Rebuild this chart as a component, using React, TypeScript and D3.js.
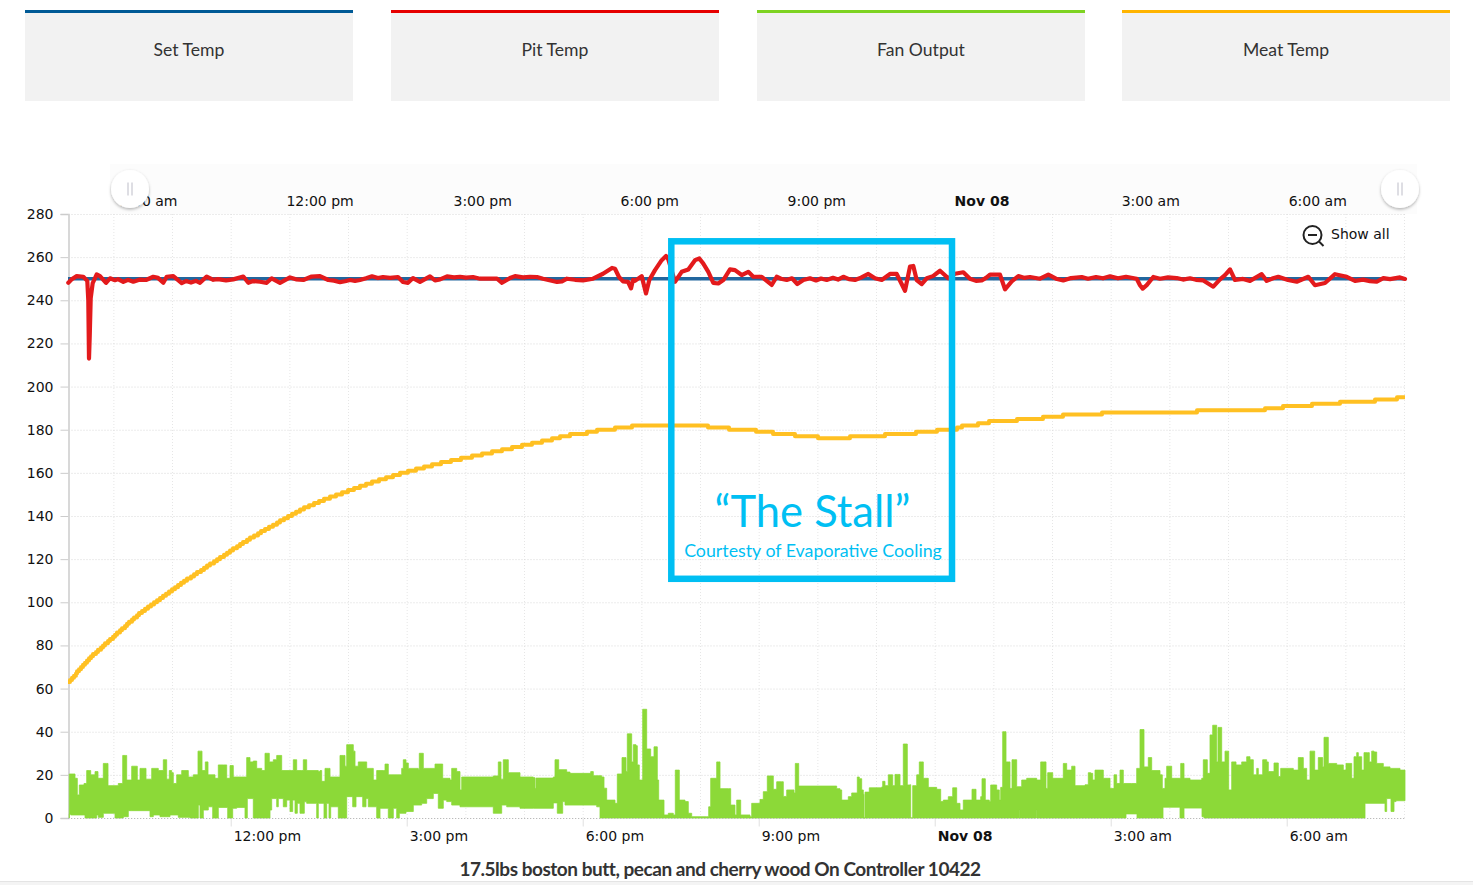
import * as d3 from 'd3';
import React, { useEffect, useRef } from 'react';

type Reading = [number, number];

// readings are keyed by logger sample number, the run is 1337 samples long
const sampleCount = 1337;
const runStart = new Date(2016, 10, 7, 9, 13, 36);
const runEnd = new Date(2016, 10, 8, 8, 1, 0);

const legendNames = ['Set Temp', 'Pit Temp', 'Fan Output', 'Meat Temp'];
const legendColors = ['#005a96', '#e60000', '#7ed321', '#ffb400'];

const yTicks = [0, 20, 40, 60, 80, 100, 120, 140, 160, 180, 200, 220, 240, 260, 280];
const bottomTickTimes = [
  new Date(2016, 10, 7, 12),
  new Date(2016, 10, 7, 15),
  new Date(2016, 10, 7, 18),
  new Date(2016, 10, 7, 21),
  new Date(2016, 10, 8, 0),
  new Date(2016, 10, 8, 3),
  new Date(2016, 10, 8, 6),
];
const bottomTickLabels = ['12:00 pm', '3:00 pm', '6:00 pm', '9:00 pm', 'Nov 08', '3:00 am', '6:00 am'];
const topTickTimes = [new Date(2016, 10, 7, 9), ...bottomTickTimes];
const topTickLabels = ['9:00 am', ...bottomTickLabels];

const setTemp: Reading[] = [[0, 250], [1337, 250]];

const pitTemp: Reading[] = [
  [0.3, 248.1], [3.7, 249.7], [8.7, 251.2], [15.3, 250.9], [19.3, 249], [20.3, 240], [21, 213], [21.7, 223], [22.7, 241],
  [24.7, 248], [28.7, 252], [32, 251.2], [38, 248.1], [42, 250.2], [47, 249.3], [50, 249.8], [55.3, 248.5], [60, 249.5], [65.3, 248.6],
  [72, 249.6], [78, 249.4], [85.3, 250.9], [90, 250.4], [95.3, 248.1], [98.7, 250.9], [105.3, 251.2], [113.7, 248], [118, 248.9],
  [123, 248.2], [128, 249], [132, 248.1], [138.7, 251], [145.3, 249.5], [150, 249.8], [158, 249.2], [165.3, 249.7], [175.3, 251],
  [180.3, 248.1], [185, 248.9], [192, 248.6], [198.7, 248.1], [203.7, 250.2], [212, 248.1], [222, 250.6], [228, 249.7], [235.3, 249.4],
  [243.7, 251], [252, 251.2], [260.3, 249.4], [266, 249.1], [272, 248.4], [277, 248.8], [282, 249.4], [287, 249], [292, 249.4], [298, 250.2],
  [304, 251.1], [310, 250.3], [315, 250.8], [322, 250.4], [330, 250.8], [335, 248.5], [340, 248.1], [345, 250.3], [352, 248.5], [362, 251.1],
  [367, 249.2], [372, 249.7], [379, 251.1], [386, 250.6], [392, 250.9], [398, 250.5], [405, 250.8], [412, 250], [429, 250], [434, 248.1],
  [442, 250.3], [447, 251.2], [455, 250.6], [462, 250.9], [469, 250.8], [475, 250], [489, 248.5], [494, 248.8], [499, 250], [507, 249.5],
  [515, 249.2], [525, 250], [535, 252.3], [544, 255], [547, 254.6], [551, 250.8], [555, 248.8], [560, 248.5], [563, 245.5], [565, 249.5],
  [567, 249], [573.7, 251.2], [578, 243.2], [581.3, 249.4], [587, 254], [593.7, 258.6], [598, 260.5], [600.3, 259], [607, 248.6], [613.7, 253.2],
  [620.3, 254.3], [627, 258.6], [631.3, 259.4], [635.3, 257], [640.3, 253.2], [645.3, 248.1], [650.3, 247.8], [655.3, 249.4], [662, 254.3],
  [667, 254], [673.7, 251.7], [680.3, 253.2], [685.3, 250.9], [693.7, 250.9], [703.7, 247.1], [708.7, 250.9], [713, 250], [718.7, 249.4],
  [724, 250.2], [729.3, 247.5], [735.3, 249.4], [742, 250.2], [748, 249.2], [753, 250.1], [758.7, 249.4], [765, 250.4], [770, 249.6],
  [775.3, 250.9], [781, 249.8], [787, 249.4], [793, 250.5], [800.3, 252.2], [807, 250.2], [813.7, 249.4], [822, 252.2], [828.7, 252.2],
  [837, 244.4], [842, 255.6], [845.3, 255.9], [848.7, 249.4], [853.7, 247.5], [858.7, 250.2], [865, 251.2], [872, 253.7], [880.3, 250.2],
  [887, 252.3], [895.3, 253], [902, 250], [908, 249], [913.7, 249.2], [918, 250.4], [922, 251.9], [932, 251.9], [937, 245.1], [943.7, 248.8],
  [950.3, 251.2], [956, 250.4], [962, 250.8], [972, 250], [980.3, 251.9], [988, 250], [995.3, 249.2], [1003, 250.3], [1013.7, 250.8], [1020, 250],
  [1028, 250.8], [1035, 250.2], [1042, 251.1], [1050, 250.2], [1058, 250.9], [1068.7, 250], [1072, 247], [1074.7, 245.4], [1078.7, 247],
  [1085.3, 250.8], [1092, 250], [1100, 250.6], [1108.7, 250.3], [1115, 249.6], [1122, 250.2], [1128, 249.5], [1135.3, 249.2], [1145.3, 246.3],
  [1152, 249.7], [1157, 251.7], [1162, 254.3], [1167, 249.4], [1175, 249.9], [1182, 249], [1193.7, 252.1], [1198.7, 249], [1205, 250.2],
  [1210.3, 250.9], [1220, 249.4], [1228.7, 248.6], [1240.3, 250.9], [1247, 247], [1257, 248], [1267, 252.1], [1278.7, 250.9], [1287, 249],
  [1295, 249.6], [1302, 248.9], [1308.7, 248.6], [1315.3, 250.3], [1322, 249.8], [1332, 250.6], [1337, 249.9],
];

const meatTemp: Reading[] = [
  [0, 63], [2, 64], [4, 65], [6, 66], [8, 67], [9, 68], [11, 69], [13, 70], [15, 71], [17, 72], [19, 73], [21, 74], [23, 75],
  [25, 76], [28, 77], [30, 78], [33, 79], [35, 80], [37, 81], [40, 82], [42, 83], [45, 84], [47, 85], [49, 86], [52, 87], [54, 88],
  [57, 89], [59, 90], [61, 91], [64, 92], [66, 93], [69, 94], [71, 95], [74, 96], [77, 97], [80, 98], [83, 99], [86, 100], [89, 101],
  [92, 102], [95, 103], [98, 104], [101, 105], [104, 106], [107, 107], [110, 108], [113, 109], [116, 110], [119, 111], [123, 112],
  [126, 113], [129, 114], [133, 115], [136, 116], [139, 117], [142, 118], [146, 119], [149, 120], [152, 121], [156, 122], [159, 123],
  [162, 124], [165, 125], [169, 126], [172, 127], [175, 128], [179, 129], [182, 130], [186, 131], [190, 132], [193, 133], [197, 134],
  [201, 135], [205, 136], [209, 137], [212, 138], [216, 139], [220, 140], [224, 141], [228, 142], [232, 143], [236, 144], [241, 145],
  [246, 146], [251, 147], [256, 148], [262, 149], [268, 150], [274, 151], [280, 152], [286, 153], [292, 154], [298, 155], [304, 156],
  [311, 157], [318, 158], [325, 159], [332, 160], [340, 161], [348, 162], [356, 163], [364, 164], [373, 165], [383, 166], [393, 167],
  [404, 168], [414, 169], [424, 170], [434, 171], [444, 172], [454, 173], [464, 174], [474, 175], [484, 176], [492, 177], [502, 178],
  [519, 179], [529, 180], [547, 181], [564, 182], [640, 181], [661, 180], [688, 179], [705, 178], [727, 177], [750, 176], [782, 177],
  [817, 178], [848, 179], [869, 180], [889, 181], [894, 182], [910, 183], [921, 184], [949, 185], [975, 186], [995, 187], [1034, 188],
  [1129, 189], [1197, 190], [1215, 191], [1244, 192], [1272, 193], [1307, 194], [1329, 195], [1337, 195],
];

// fan output swings fast, so it is kept as its upper and lower edge
const fanHigh: Reading[] = [
  [1.3, 20.4], [7, 18.4], [9.3, 10.7], [11.3, 15.3], [16, 16], [18.7, 22], [21.3, 22], [22.7, 20], [27, 21.5], [30, 18.4], [35.3, 25.3],
  [38.7, 25.3], [40, 15], [50.3, 16], [54.7, 29], [57.3, 29], [58.7, 17.6], [63.7, 24], [67.3, 24], [69.3, 17.6], [72, 23], [76, 23],
  [78, 18], [83.7, 23], [87, 23], [90.3, 22], [95.3, 27], [97.3, 27], [98.7, 18], [101.3, 22], [103.7, 21], [105.3, 16], [108.7, 20],
  [113.7, 22], [120.3, 19], [125.3, 20], [130, 31], [132.7, 31], [134, 22], [137.3, 26], [140, 20], [147, 18.4], [150.3, 24.6],
  [155.3, 24.6], [158.7, 18.4], [162, 24.3], [164, 24.3], [165.3, 19], [173.7, 19], [178.7, 28], [180.7, 28], [182, 26], [185.3, 26.4],
  [188.7, 23], [193.7, 22], [197, 30], [199.3, 30], [201.3, 26], [205.3, 27], [208.7, 29], [212, 29], [213.7, 22], [223.7, 22], [225.3, 27],
  [227.3, 27], [228.7, 22], [233.7, 22], [235.3, 27], [237.3, 27], [238.7, 22], [250.3, 21.5], [252, 22], [253.7, 17], [257, 23], [260.3, 23],
  [262, 19], [270.3, 19], [272, 29], [275.3, 29], [277, 24], [278.7, 34], [280.7, 34], [285.3, 31], [287, 24], [290.3, 26], [298.7, 23],
  [305.3, 17.6], [308.7, 22], [315.3, 22], [317, 25], [320.3, 20], [333.7, 23], [335.3, 27], [338, 25.5], [340.3, 23], [350.3, 22.5],
  [351.3, 30], [354.7, 30], [355.3, 23], [367, 25], [372, 25], [374.7, 18.4], [382, 17.6], [383.7, 23], [388.7, 21.5], [392, 13], [393.7, 19],
  [412, 19], [425.3, 19.5], [430.3, 26], [432.7, 26], [433, 18], [435.3, 27], [438.7, 27], [440.3, 21], [452, 19], [465.3, 18.7], [467, 13.7],
  [468, 18.5], [485.3, 19], [487, 27], [489.3, 27], [490.7, 22.4], [498.7, 21.3], [502, 20.7], [520.3, 20.7], [522.7, 21.5], [525.3, 19.6],
  [533.7, 19], [536, 13.8], [538.7, 8.3], [547, 6.8], [549.3, 20.4], [552, 20.4], [554, 28], [556.7, 28], [558, 21.6], [559.3, 39], [562, 39],
  [563.7, 26], [565.3, 34], [568, 33.5], [569.3, 24.6], [571.3, 17.6], [574.7, 50.4], [576.7, 50.4], [578.7, 32], [580.7, 32], [582.7, 28.4],
  [586, 33], [588, 33], [589.3, 17.6], [590.7, 8.3], [594.7, 8.3], [596, 1.4], [600.3, 2.2], [605.3, 1.4], [607.3, 22.2], [609.3, 22.2],
  [611.3, 8.3], [617, 7.6], [620.3, 2.2], [623.7, 0.6], [638.7, 0.6], [640.7, 5.2], [642.7, 18.4], [647.3, 18.4], [648.7, 26], [650.3, 26],
  [652, 13.6], [660.3, 13.6], [662.7, 6], [665.3, 6], [667, 1.4], [668.7, 8.3], [670.7, 8.3], [672.7, 1.4], [682, 0.6], [683.7, 6.8], [692, 8.6],
  [695.3, 12.2], [698, 12.2], [699.3, 19.5], [703.7, 19.5], [705.3, 13.3], [708.7, 16.8], [713.7, 16.8], [715.3, 10], [718.7, 13], [726, 11.6],
  [727.3, 25.3], [729.3, 25.3], [730.7, 14.8], [768.7, 13.6], [772, 13], [773.7, 8.3], [780.3, 9.9], [783.7, 11.6], [787, 11.6], [789.3, 19],
  [791.3, 18.2], [793.7, 13], [795.3, 11], [796, 0], [797, 12], [801.3, 14], [813.7, 14.4], [814.7, 17], [817, 15], [820.3, 20], [822.7, 20],
  [824.7, 15], [827, 20.2], [829.3, 20.2], [832, 15], [835.3, 34.3], [837.3, 34.3], [839.3, 15.3], [842, 15.4], [842.7, 0], [844.7, 15],
  [848.7, 20], [851.3, 26], [853.3, 26], [855.3, 18.4], [860.3, 14.2], [868.7, 13.3], [872.7, 7.6], [875.3, 8.3], [880.3, 9.9], [884.7, 14],
  [887, 14], [888.7, 6.8], [892, 3.7], [895.3, 8.3], [902, 8.3], [904, 13.3], [906, 13.3], [908, 8.3], [912.7, 9.9], [914, 18.2], [916, 18.2],
  [917.3, 8.3], [921.3, 7.6], [922.7, 15.3], [925.3, 15.3], [928.7, 13], [931.3, 8.3], [932.7, 14.2], [934.7, 40], [936.7, 40], [938, 26],
  [940.7, 26], [942, 13.7], [944, 27], [946.7, 27], [948.7, 14.5], [953.7, 17.6], [958.7, 18.4], [965.3, 18.4], [968.7, 17.6], [972.7, 26],
  [975.3, 26], [978, 13.7], [979.7, 21], [982, 21], [984.7, 18.4], [993.7, 18.4], [995.3, 25.3], [997.3, 25.3], [998.7, 22.2], [1003.7, 24],
  [1005.3, 24], [1007, 15], [1017, 15.4], [1020.3, 21], [1022.7, 20.7], [1024.7, 17.6], [1027, 22.2], [1032, 22.2], [1035.3, 18.4],
  [1039.3, 18.4], [1042, 13.7], [1046, 20], [1048.7, 16], [1052, 22.2], [1053.7, 22.2], [1055.3, 16], [1063.7, 16], [1068.7, 23], [1072, 41],
  [1074, 41], [1076, 23.7], [1080.3, 28], [1082, 28], [1083.7, 22], [1092, 20], [1094.3, 13.7], [1097, 18.4], [1098.7, 24], [1102, 24],
  [1103.7, 18.4], [1111.3, 18.4], [1112.7, 25.3], [1114.7, 25.3], [1116, 18.4], [1122, 17.6], [1133.7, 18.4], [1135.3, 27], [1137.3, 27],
  [1139.3, 20.7], [1142, 38.5], [1144.7, 43], [1147.3, 43], [1148.7, 26], [1150, 42], [1152, 42], [1153.7, 26], [1157, 31], [1159.3, 31],
  [1160.7, 13], [1163.7, 26], [1166, 26], [1168, 24.6], [1173.7, 26], [1178.7, 28.4], [1182, 27], [1185.3, 20], [1188.7, 23], [1190.3, 20],
  [1194.7, 27], [1198.7, 26], [1200.3, 21.5], [1206, 25.5], [1208, 25.5], [1210.3, 19.2], [1212.7, 23], [1225.3, 22.2], [1230.3, 28],
  [1233.7, 28], [1235.3, 23], [1238.7, 17.6], [1242, 31], [1244, 31], [1246.7, 22.2], [1250.3, 28], [1252, 28], [1254.7, 23.7], [1256, 37.4],
  [1258, 37.4], [1260.3, 25.3], [1268.7, 24.6], [1275.3, 22.2], [1278, 25.3], [1280, 25.3], [1283.7, 18.4], [1286, 28.4], [1288.7, 30.3],
  [1290.3, 28.4], [1293.7, 22.2], [1296, 30.3], [1299.3, 30.3], [1301.3, 26], [1303.7, 31], [1306, 30.6], [1308.7, 25.3], [1315.3, 23.7],
  [1322, 23], [1332, 22.2], [1337, 21],
];

const fanLow: Reading[] = [
  [1.3, 0], [2.7, 1.9], [17, 1.4], [18.7, 0], [28.7, 0], [30.3, 1.4], [35.3, 0.3], [47, 2.2], [55.3, 0], [60.3, 0.6], [63.7, 3.4], [82, 3.4],
  [85.3, 0.6], [92, 1.4], [102, 0.6], [110.3, 1.4], [122, 0.3], [130.3, 0], [132, 6], [135.3, 0], [140.3, 3.7], [144.7, 5.2], [150.3, 0],
  [159.7, 4.9], [164.7, 0], [168.7, 4.5], [177, 4.9], [179.3, 0], [185.3, 9], [190.3, 0], [202, 0], [203.7, 3.7], [208.7, 9], [210.3, 5.2],
  [215.3, 9], [218.7, 5.2], [222, 8.3], [224.7, 3], [227, 8.3], [229.3, 2.2], [232, 6.8], [236.3, 2.2], [238.7, 7.5], [248.7, 6.8], [250.3, 0],
  [256, 6.8], [258.7, 0], [261, 6.8], [262.7, 0], [270.3, 5.2], [278.7, 0], [284.7, 9.9], [288, 5.2], [294.7, 9.9], [298, 5.2], [300.3, 9],
  [308.7, 5.2], [312, 0], [320.3, 4.5], [325.3, 0], [328.7, 4.5], [331.3, 0], [338, 2.2], [345.3, 3], [353.7, 6], [358.7, 6.8], [365.3, 9],
  [370.3, 11.4], [375.3, 4.5], [378.7, 8.3], [383.7, 7.6], [392, 6], [398.7, 5.2], [425.3, 5.2], [433.7, 2.2], [438.7, 6], [452, 5.2],
  [465.3, 4.5], [485.3, 4.5], [489.3, 7], [492, 2.2], [494.7, 2.2], [497, 7.6], [528.7, 6], [532, 5.2], [533, 0], [951.5, 0], [952, 3.5],
  [952.5, 0], [968.2, 0], [968.7, 3.5], [969.2, 0], [1058, 0], [1059, 1.9], [1069, 1.9], [1070, 0], [1095, 0], [1096, 5], [1112, 5], [1113, 0],
  [1116, 0], [1118, 4.6], [1134, 4.6], [1136, 0.6], [1297, 0], [1307, 6.8], [1317, 6.8], [1318.7, 3], [1323, 9], [1326, 3], [1328, 7.6], [1337, 8],
];

const width = 1473;
const height = 885;
const margin = { top: 214, right: 68, bottom: 67, left: 68 };
const cardWidth = 328;
const cardX = [25, 391, 757, 1122];
const labelFont = '"DejaVu Sans", Verdana, sans-serif';
const stallBlue = '#00bff3';

const App: React.FC = () => {
  const ref = useRef<SVGSVGElement>(null);

  useEffect(() => {
    const svg = d3.select(ref.current);
    svg.selectAll('*').remove();

    const x = d3.scaleTime().domain([runStart, runEnd]).range([margin.left, width - margin.right]);
    const navigator = d3.scaleTime().domain([runStart, runEnd]).range([129.5, 1398.5]);
    const y = d3.scaleLinear().domain([0, 280]).range([height - margin.bottom, margin.top]);
    const timeAt = (sample: number) => new Date(+runStart + (sample / sampleCount) * (+runEnd - +runStart));

    const line = d3
      .line<Reading>()
      .x((d) => x(timeAt(d[0])))
      .y((d) => y(d[1]));
    const stepLine = d3
      .line<Reading>()
      .x((d) => x(timeAt(d[0])))
      .y((d) => y(d[1]))
      .curve(d3.curveStepAfter);

    const defs = svg.append('defs');
    const shadow = defs.append('filter').attr('id', 'handle-shadow').attr('x', '-30%').attr('y', '-30%').attr('width', '160%').attr('height', '160%');
    shadow.append('feDropShadow').attr('dx', 0).attr('dy', 1.5).attr('stdDeviation', 1.5).attr('flood-color', '#000').attr('flood-opacity', 0.3);

    // legend cards
    const cards = svg.append('g').selectAll('g').data(legendNames).join('g').attr('transform', (_, i) => `translate(${cardX[i]},10)`);
    cards.append('rect').attr('width', cardWidth).attr('height', 91).attr('fill', '#f2f2f2');
    cards.append('rect').attr('width', cardWidth).attr('height', 3).attr('fill', (_, i) => legendColors[i]);
    cards
      .append('text')
      .attr('x', cardWidth / 2)
      .attr('y', 46)
      .attr('text-anchor', 'middle')
      .attr('font-family', 'Lato, sans-serif')
      .attr('font-size', 17.6)
      .attr('fill', '#333')
      .text((d) => d);

    // navigator band
    svg.append('rect').attr('x', 110).attr('y', 164).attr('width', 1307).attr('height', 50).attr('fill', '#fcfcfc');

    // grid
    const hours = d3.timeHour.range(runStart, runEnd);
    svg
      .append('g')
      .selectAll('line')
      .data(hours)
      .join('line')
      .attr('x1', (d) => x(d) + 0.5)
      .attr('x2', (d) => x(d) + 0.5)
      .attr('y1', margin.top)
      .attr('y2', height - margin.bottom)
      .attr('stroke', '#e6e6e6')
      .attr('stroke-dasharray', '1,2');

    const yAxis = svg
      .append('g')
      .attr('transform', `translate(${margin.left + 0.5},0)`)
      .call(d3.axisLeft(y).tickValues(yTicks).tickSize(8).tickPadding(7));
    yAxis.select('.domain').attr('stroke', '#ccc').attr('stroke-width', 1.5);
    yAxis.selectAll('.tick line').attr('stroke', '#ccc');
    yAxis.selectAll('text').attr('font-family', labelFont).attr('font-size', 14).attr('fill', '#111');
    yAxis
      .selectAll('.tick')
      .append('line')
      .attr('x2', width - margin.right - margin.left)
      .attr('stroke', '#d8d8d8')
      .attr('stroke-dasharray', '1,2');

    const bottomAxis = svg
      .append('g')
      .attr('transform', `translate(0,${height - margin.bottom + 0.5})`)
      .call(
        d3
          .axisBottom(x)
          .tickValues(bottomTickTimes)
          .tickSize(8)
          .tickFormat((_, i) => bottomTickLabels[i])
      );
    bottomAxis.select('.domain').remove();
    bottomAxis.selectAll('.tick line').attr('stroke', '#e0e0e0');
    bottomAxis
      .selectAll('text')
      .attr('x', 2.5)
      .attr('y', 13)
      .attr('dy', '0.71em')
      .attr('text-anchor', 'start')
      .attr('font-family', labelFont)
      .attr('font-size', 14)
      .attr('fill', '#111')
      .attr('font-weight', (_, i) => (bottomTickLabels[i] === 'Nov 08' ? 'bold' : 'normal'));

    // series
    svg
      .append('path')
      .attr('d', line(setTemp))
      .attr('fill', 'none')
      .attr('stroke', '#22669e')
      .attr('stroke-width', 3.5);

    const fanOutline = [...fanHigh, ...[...fanLow].reverse()];
    svg
      .append('path')
      .attr('d', `${stepLine(fanOutline)}Z`)
      .attr('fill', '#8cd938')
      .attr('stroke', '#8cd938')
      .attr('stroke-width', 0.8)
      .attr('stroke-linejoin', 'round');

    svg
      .append('line')
      .attr('x1', margin.left)
      .attr('x2', width - margin.right)
      .attr('y1', height - margin.bottom + 0.5)
      .attr('y2', height - margin.bottom + 0.5)
      .attr('stroke', '#bbb')
      .attr('stroke-dasharray', '1,2');

    svg
      .append('path')
      .attr('d', stepLine(meatTemp))
      .attr('fill', 'none')
      .attr('stroke', '#ffc022')
      .attr('stroke-width', 4)
      .attr('stroke-linejoin', 'round');

    svg
      .append('path')
      .attr('d', line(pitTemp))
      .attr('fill', 'none')
      .attr('stroke', '#e31a1c')
      .attr('stroke-width', 4.2)
      .attr('stroke-linejoin', 'round')
      .attr('stroke-linecap', 'round');

    // navigator axis and handles
    const topAxis = svg
      .append('g')
      .attr('transform', 'translate(0,214)')
      .call(
        d3
          .axisTop(navigator)
          .tickValues(topTickTimes)
          .tickSize(0)
          .tickFormat((_, i) => topTickLabels[i])
      );
    topAxis.select('.domain').remove();
    topAxis
      .selectAll('text')
      .attr('x', 2)
      .attr('y', -8)
      .attr('dy', 0)
      .attr('text-anchor', 'start')
      .attr('font-family', labelFont)
      .attr('font-size', 14)
      .attr('fill', '#111')
      .attr('font-weight', (_, i) => (topTickLabels[i] === 'Nov 08' ? 'bold' : 'normal'));

    const handles = svg.append('g').selectAll('g').data([130, 1400]).join('g').attr('transform', (d) => `translate(${d},189)`);
    handles.append('circle').attr('r', 19).attr('fill', '#fff').attr('filter', 'url(#handle-shadow)');
    handles.append('line').attr('x1', -2).attr('x2', -2).attr('y1', -6.5).attr('y2', 6.5).attr('stroke', '#bdbdc8');
    handles.append('line').attr('x1', 2).attr('x2', 2).attr('y1', -6.5).attr('y2', 6.5).attr('stroke', '#bdbdc8');

    // show all control
    const reset = svg.append('g').attr('transform', 'translate(1312.5,235)').attr('fill', 'none').attr('stroke', '#222').attr('stroke-width', 2);
    reset.append('circle').attr('r', 9);
    reset.append('line').attr('x1', -4.5).attr('x2', 4.5);
    reset.append('line').attr('x1', 6.5).attr('y1', 6.5).attr('x2', 11).attr('y2', 11);
    svg
      .append('text')
      .attr('x', 1331)
      .attr('y', 239)
      .attr('font-family', labelFont)
      .attr('font-size', 14)
      .attr('fill', '#111')
      .text('Show all');

    // stall annotation
    svg
      .append('rect')
      .attr('x', 671.3)
      .attr('y', 241.3)
      .attr('width', 280.7)
      .attr('height', 337.5)
      .attr('fill', 'none')
      .attr('stroke', stallBlue)
      .attr('stroke-width', 6.5);
    svg
      .append('text')
      .attr('x', 812.5)
      .attr('y', 527)
      .attr('text-anchor', 'middle')
      .attr('font-family', 'Lato, sans-serif')
      .attr('font-size', 43.5)
      .attr('fill', stallBlue)
      .text('“The Stall”');
    svg
      .append('text')
      .attr('x', 813)
      .attr('y', 557)
      .attr('text-anchor', 'middle')
      .attr('font-family', 'Lato, sans-serif')
      .attr('font-size', 17.8)
      .attr('fill', stallBlue)
      .text('Courtesty of Evaporative Cooling');

    // caption and page footer
    svg
      .append('text')
      .attr('x', 720)
      .attr('y', 876)
      .attr('text-anchor', 'middle')
      .attr('font-family', 'Lato, sans-serif')
      .attr('font-size', 19)
      .attr('font-weight', 'bold')
      .attr('letter-spacing', -0.47)
      .attr('fill', '#333')
      .text('17.5lbs boston butt, pecan and cherry wood On Controller 10422');
    svg.append('rect').attr('y', 881).attr('width', width).attr('height', 4).attr('fill', '#f4f4f4');
    svg.append('line').attr('x2', width).attr('y1', 881.5).attr('y2', 881.5).attr('stroke', '#e4e4e4');
  }, []);

  return <svg ref={ref} width={width} height={height} style={{ position: 'absolute', left: 0, top: 0 }}></svg>;
};

export default App;
